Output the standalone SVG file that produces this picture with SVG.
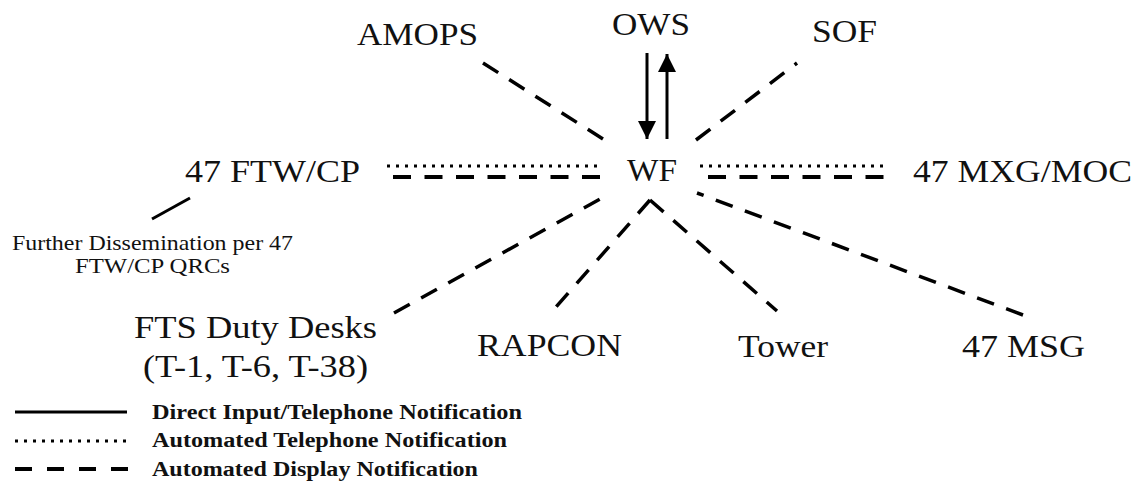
<svg xmlns="http://www.w3.org/2000/svg" width="1138" height="485" viewBox="0 0 1138 485">
  <style>
    .lbl { font-family: "Liberation Serif", "Times New Roman", serif; font-size: 32px; fill: #111; }
    .note { font-family: "Liberation Serif", "Times New Roman", serif; font-size: 22px; fill: #111; }
    .key { font-family: "Liberation Serif", "Times New Roman", serif; font-size: 20px; font-weight: bold; fill: #111; }
    .solid { stroke: #000; stroke-width: 3; fill: none; }
    .dash { stroke: #000; stroke-width: 3.5; fill: none; stroke-dasharray: 18 13; }
    .hdash { stroke: #000; stroke-width: 4; fill: none; stroke-dasharray: 18 13.5; }
    .dot { stroke: #000; stroke-width: 3; fill: none; stroke-dasharray: 3 6; }
  </style>
  <defs>
    <marker id="arrow" viewBox="0 0 18 18" refX="18" refY="9" markerWidth="18" markerHeight="18" markerUnits="userSpaceOnUse" orient="auto">
      <path d="M0,0 L18,9 L0,18 Z" fill="#000"/>
    </marker>
  </defs>
  <rect width="1138" height="485" fill="#fff"/>

  <g id="connectors">
    <!-- OWS <-> WF -->
    <line class="solid" x1="647" y1="53" x2="647" y2="139" marker-end="url(#arrow)"/>
    <line class="solid" x1="667" y1="139" x2="667" y2="54" marker-end="url(#arrow)"/>
    <!-- upper diagonals -->
    <line class="dash" x1="483" y1="63" x2="603" y2="139"/>
    <line class="dash" x1="696" y1="140" x2="797" y2="63"/>
    <!-- 47 FTW/CP <-> WF -->
    <line class="dot" x1="387" y1="166" x2="600" y2="166"/>
    <line class="hdash" x1="393" y1="177" x2="602" y2="177"/>
    <!-- WF <-> 47 MXG/MOC -->
    <line class="dot" x1="700" y1="166" x2="884" y2="166"/>
    <line class="hdash" x1="708" y1="177" x2="884" y2="177"/>
    <!-- lower diagonals -->
    <line class="dash" x1="394" y1="313" x2="611" y2="193"/>
    <line class="dash" x1="650" y1="200" x2="549" y2="315"/>
    <line class="dash" x1="650" y1="200" x2="777" y2="311"/>
    <line class="dash" x1="1023" y1="315" x2="697" y2="193"/>
    <!-- onward dissemination -->
    <line class="solid" x1="152" y1="219" x2="190" y2="198"/>
  </g>

  <g id="node-amops"><text class="lbl" x="357" y="45" textLength="121" lengthAdjust="spacingAndGlyphs">AMOPS</text></g>
  <g id="node-ows"><text class="lbl" x="612" y="35" textLength="78" lengthAdjust="spacingAndGlyphs">OWS</text></g>
  <g id="node-sof"><text class="lbl" x="812" y="42" textLength="65" lengthAdjust="spacingAndGlyphs">SOF</text></g>
  <g id="node-ftw-cp"><text class="lbl" x="185" y="182" textLength="175" lengthAdjust="spacingAndGlyphs">47 FTW/CP</text></g>
  <g id="node-wf"><text class="lbl" x="627" y="181" textLength="50" lengthAdjust="spacingAndGlyphs">WF</text></g>
  <g id="node-mxg-moc"><text class="lbl" x="913" y="182" textLength="219" lengthAdjust="spacingAndGlyphs">47 MXG/MOC</text></g>
  <g id="node-dissemination">
    <text class="note" x="12" y="250" textLength="281" lengthAdjust="spacingAndGlyphs">Further Dissemination per 47</text>
    <text class="note" x="75" y="273" textLength="155" lengthAdjust="spacingAndGlyphs">FTW/CP QRCs</text>
  </g>
  <g id="node-fts">
    <text class="lbl" x="134" y="338" textLength="243" lengthAdjust="spacingAndGlyphs">FTS Duty Desks</text>
    <text class="lbl" x="143" y="377" textLength="225" lengthAdjust="spacingAndGlyphs">(T-1, T-6, T-38)</text>
  </g>
  <g id="node-rapcon"><text class="lbl" x="477" y="356" textLength="145" lengthAdjust="spacingAndGlyphs">RAPCON</text></g>
  <g id="node-tower"><text class="lbl" x="738" y="357" textLength="90" lengthAdjust="spacingAndGlyphs">Tower</text></g>
  <g id="node-msg"><text class="lbl" x="962" y="357" textLength="123" lengthAdjust="spacingAndGlyphs">47 MSG</text></g>

  <g id="legend">
    <line class="solid" x1="15" y1="412" x2="127" y2="412"/>
    <line class="dot" x1="15" y1="441" x2="128" y2="441"/>
    <line class="hdash" x1="15" y1="469" x2="128" y2="469" style="stroke-dasharray:17 15"/>
    <text class="key" x="152" y="419" textLength="370" lengthAdjust="spacingAndGlyphs">Direct Input/Telephone Notification</text>
    <text class="key" x="152" y="447" textLength="355" lengthAdjust="spacingAndGlyphs">Automated Telephone Notification</text>
    <text class="key" x="152" y="476" textLength="326" lengthAdjust="spacingAndGlyphs">Automated Display Notification</text>
  </g>
</svg>
